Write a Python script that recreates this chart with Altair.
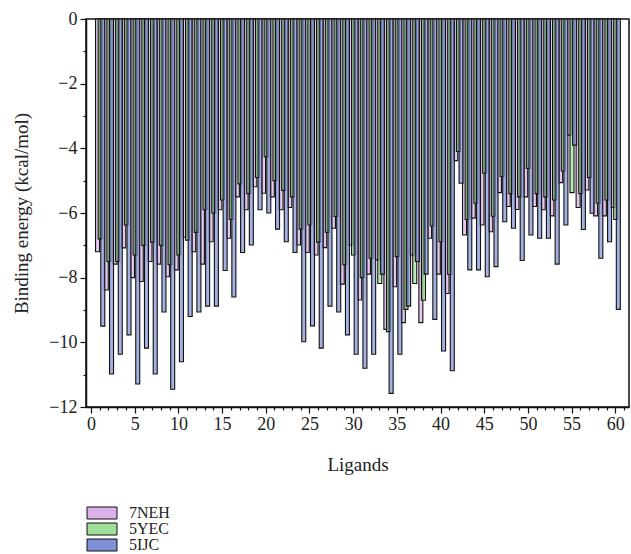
import altair as alt
import pandas as pd

ligands = list(range(1, 61))

e_7neh = [-7.2, -8.38, -7.58, -7.08, -8.0, -8.12, -7.5, -7.58, -7.97, -7.76,
          -6.75, -7.2, -7.58, -6.89, -5.9, -6.78, -5.5, -5.9, -5.19, -5.39,
          -5.5, -5.9, -5.83, -6.99, -7.22, -7.3, -7.07, -6.47, -8.2, -6.99,
          -8.69, -7.89, -7.45, -9.6, -8.28, -9.39, -7.3, -9.39, -6.78, -7.89,
          -8.49, -4.38, -6.68, -6.16, -6.37, -6.58, -5.37, -5.8, -5.89, -5.5,
          -5.8, -5.9, -6.09, -5.06, -3.59, -5.83, -5.29, -6.09, -6.09, -5.83]

e_5yec = [-6.8, -7.5, -7.5, -6.37, -7.3, -7.0, -6.9, -7.0, -7.6, -7.3,
          -6.84, -6.6, -5.9, -6.0, -5.6, -6.2, -5.1, -5.4, -4.9, -4.26,
          -5.0, -5.3, -5.5, -6.5, -6.37, -6.9, -6.6, -6.11, -7.6, -7.3,
          -8.0, -7.4, -8.18, -9.67, -7.35, -8.98, -8.18, -8.7, -6.4, -6.89,
          -7.9, -4.1, -6.2, -5.7, -4.77, -6.1, -4.87, -5.4, -5.5, -4.62,
          -5.4, -5.5, -5.6, -4.7, -5.37, -5.4, -4.9, -5.7, -5.6, -6.2]

e_5ijc = [-9.5, -10.98, -10.37, -9.77, -11.29, -10.18, -10.98, -9.06, -11.45, -10.6,
          -9.2, -9.06, -8.88, -8.88, -7.78, -8.6, -7.22, -6.99, -5.9, -6.0,
          -6.5, -6.89, -7.22, -9.98, -9.49, -10.18, -8.88, -9.06, -9.77, -10.37,
          -10.8, -10.37, -7.89, -11.58, -10.37, -8.88, -7.5, -7.89, -9.29, -10.27,
          -10.88, -5.08, -7.76, -7.76, -7.97, -7.66, -6.27, -6.47, -7.47, -6.68,
          -6.78, -6.78, -7.58, -6.37, -3.9, -6.51, -6.01, -7.4, -6.89, -8.98]

series_names = ["7NEH", "5YEC", "5IJC"]
series_colors = ["#dcb0e8", "#9fdf9b", "#7f90d4"]

rows = []
for name, vals in zip(series_names, [e_7neh, e_5yec, e_5ijc]):
    for lig, v in zip(ligands, vals):
        rows.append({"ligand": lig, "series": name, "energy": v})
df = pd.DataFrame(rows)

FONT = "Liberation Serif"

x_ticks = list(range(0, 62))
y_ticks = list(range(-12, 1))

bars = alt.Chart(df).transform_calculate(
    xpos="datum.ligand + (datum.series === '7NEH' ? -0.25 : (datum.series === '5YEC' ? 0.05 : 0.35))"
).mark_bar(size=4, stroke="#111111", strokeWidth=1.1, fillOpacity=0.7).encode(
    x=alt.X("xpos:Q", scale=alt.Scale(domain=[0, 61], nice=False, zero=False),
            axis=alt.Axis(title="Ligands", values=x_ticks,
                          labelExpr="datum.value % 5 === 0 ? datum.label : ''",
                          tickSize={"condition": {"test": "datum.value % 5 === 0", "value": 6}, "value": 3},
                          labelPadding=2, titlePadding=22)),
    y=alt.Y("energy:Q", scale=alt.Scale(domain=[-12, 0], nice=False),
            axis=alt.Axis(title="Binding energy (kcal/mol)", values=y_ticks,
                          labelExpr="datum.value % 2 === 0 ? datum.label : ''",
                          tickSize={"condition": {"test": "datum.value % 2 === 0", "value": 6}, "value": 3},
                          labelPadding=3, titlePadding=17)),
    fill=alt.Fill("series:N", scale=alt.Scale(domain=series_names, range=series_colors),
                  sort=series_names,
                  legend=alt.Legend(title=None, orient="none", legendX=8, legendY=486,
                                    symbolType="M-2.5,-1H2.5V1H-2.5Z", symbolSize=144,
                                    symbolStrokeColor="#111111", symbolStrokeWidth=1,
                                    symbolOpacity=1, labelFontSize=16, labelFont=FONT,
                                    labelColor="#222222", rowPadding=0, labelOffset=19)),
    order=alt.Order("series:N"),
)

chart = bars.properties(
    width=543, height=388,
    autosize=alt.AutoSizeParams(type="none"),
    padding={"left": 86, "top": 19, "right": 2, "bottom": 147},
).configure_view(
    stroke="#111111", strokeWidth=1.5
).configure_axis(
    grid=False, domainColor="#111111", domainWidth=1.5, tickColor="#111111",
    tickWidth=1.2, labelFont=FONT, titleFont=FONT, labelFontSize=18, titleFontSize=19,
    titleFontWeight="normal", labelColor="#222222", titleColor="#222222",
)

chart.save("out.html", embed_options={"renderer": "svg", "actions": False})
